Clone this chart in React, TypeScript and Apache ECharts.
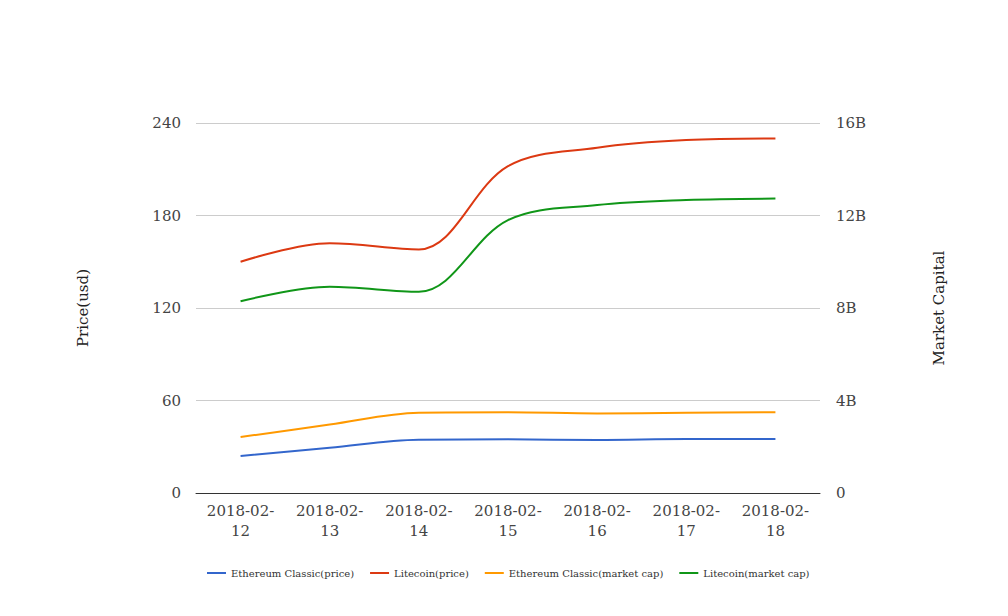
import React, { useEffect, useRef } from "react";
import * as echarts from "echarts";

const categories = ["2018-02-12", "2018-02-13", "2018-02-14", "2018-02-15", "2018-02-16", "2018-02-17", "2018-02-18"];
const etcPrice = [24.0, 29.4, 34.6, 34.8, 34.4, 35.0, 35.0];
const ltcPrice = [150, 162, 158, 212, 224, 229, 230];
const etcCap = [2.42e9, 2.96e9, 3.47e9, 3.49e9, 3.44e9, 3.47e9, 3.49e9];
const ltcCap = [8.29e9, 8.92e9, 8.7e9, 11.8e9, 12.45e9, 12.67e9, 12.73e9];
const seriesNames = ["Ethereum Classic(price)", "Litecoin(price)", "Ethereum Classic(market cap)", "Litecoin(market cap)"];
const colors = ["#3366cc", "#dc3912", "#ff9900", "#109618"];

const FONT = "DejaVu Serif";

export default function App() {
  const ref = useRef<HTMLDivElement>(null);
  useEffect(() => {
    const chart = echarts.init(ref.current!, null, { renderer: "svg" });
    const mk = (name: string, data: number[], idx: number, yi: number) => ({
      name,
      type: "line",
      data,
      yAxisIndex: yi,
      smooth: 0.35,
      showSymbol: false,
      symbol: "none",
      lineStyle: { width: 2, color: colors[idx] },
      itemStyle: { color: colors[idx] },
    });
    chart.setOption({
      animation: false,
      textStyle: { fontFamily: FONT },
      grid: { left: 196, right: 188, top: 123, bottom: 123 },
      legend: {
        top: 563,
        left: 202,
        icon: "rect",
        itemWidth: 19,
        itemHeight: 2,
        itemGap: 16,
        textStyle: { fontFamily: FONT, fontSize: 10, color: "#333" },
        data: seriesNames,
      },
      xAxis: {
        type: "category",
        data: categories,
        boundaryGap: true,
        axisLine: { lineStyle: { color: "#333", width: 1 } },
        axisTick: { show: false },
        axisLabel: {
          fontFamily: FONT,
          fontSize: 15,
          color: "#444",
          lineHeight: 20,
          margin: 8,
          interval: 0,
          formatter: (v: string) => v.slice(0, 8) + "\n" + v.slice(8),
        },
      },
      yAxis: [
        {
          type: "value",
          min: 0,
          max: 240,
          interval: 60,
          name: "Price(usd)",
          nameLocation: "middle",
          nameGap: 106,
          nameTextStyle: { fontFamily: FONT, fontSize: 15, color: "#222" },
          axisLine: { show: false },
          axisTick: { show: false },
          axisLabel: { fontFamily: FONT, fontSize: 15, color: "#444", margin: 15 },
          splitLine: { lineStyle: { color: "#cccccc" } },
        },
        {
          type: "value",
          min: 0,
          max: 16e9,
          interval: 4e9,
          name: "Market Capital",
          nameLocation: "middle",
          nameGap: 111,
          nameRotate: 90,
          nameTextStyle: { fontFamily: FONT, fontSize: 15, color: "#222" },
          axisLine: { show: false },
          axisTick: { show: false },
          axisLabel: {
            fontFamily: FONT,
            fontSize: 15,
            color: "#444",
            margin: 16,
            formatter: (v: number) => (v === 0 ? "0" : v / 1e9 + "B"),
          },
          splitLine: { show: false },
        },
      ],
      series: [
        mk(seriesNames[0], etcPrice, 0, 0),
        mk(seriesNames[1], ltcPrice, 1, 0),
        mk(seriesNames[2], etcCap, 2, 1),
        mk(seriesNames[3], ltcCap, 3, 1),
      ],
    });
    return () => chart.dispose();
  }, []);
  return <div ref={ref} style={{ width: 1008, height: 616, position: "absolute", left: 0, top: 0 }} />;
}
